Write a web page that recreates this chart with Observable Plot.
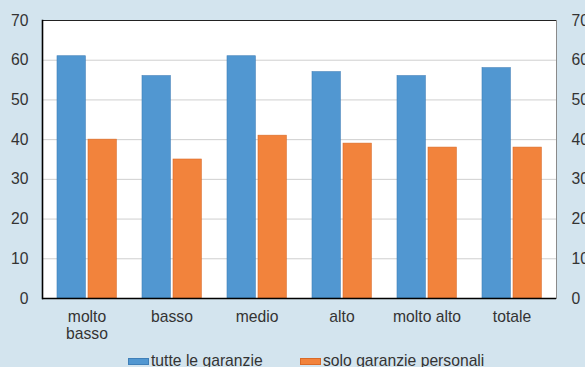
<!DOCTYPE html>
<html>
<head>
<meta charset="utf-8">
<script src="https://cdn.jsdelivr.net/npm/d3@7"></script>
<script src="https://cdn.jsdelivr.net/npm/@observablehq/plot@0.6"></script>
<style>
  html, body { margin: 0; padding: 0; background: #d3e4ee; }
  #wrap { position: relative; width: 585px; height: 367px; overflow: hidden; background: #d3e4ee; font-family: "Liberation Sans", Arial, sans-serif; }
  #legend { position: relative; height: 22px; font-size: 15.7px; line-height: 18px; color: #333; }
  .item { position: absolute; top: 7px; display: flex; align-items: flex-end; white-space: nowrap; }
  .sw { display: inline-block; width: 19px; height: 5px; margin-right: 2px; margin-bottom: 5px; }
</style>
</head>
<body>
<div id="wrap"><div id="chart"></div><div id="legend"></div></div>
<script>
const categories = ["molto\nbasso", "basso", "medio", "alto", "molto alto", "totale"];
const series = ["tutte le garanzie", "solo garanzie personali"];
const tutte = [61, 56, 61, 57, 56, 58];
const solo = [40, 35, 41, 39, 38, 38];
const yTicks = [0, 10, 20, 30, 40, 50, 60, 70];
const colors = ["#5197d1", "#f2833c"];
const strokes = ["#3f7fb8", "#d96a28"];

const dataA = categories.map((c, i) => ({cat: c, value: tutte[i]}));
const dataB = categories.map((c, i) => ({cat: c, value: solo[i]}));

const W = 585, H = 345, mL = 42, mR = 29;
const band = (W - mL - mR) / categories.length;
const FS = 15.7;

const chart = Plot.plot({
  width: W,
  height: H,
  marginTop: 20,
  marginBottom: 47,
  marginLeft: mL,
  marginRight: mR,
  style: {background: "transparent", fontFamily: "'Liberation Sans', Arial, sans-serif", fontSize: FS + "px", color: "#333"},
  x: {domain: categories, padding: 0},
  y: {domain: [0, 70]},
  marks: [
    Plot.frame({fill: "white", stroke: "#8a8a8a"}),
    Plot.gridY(yTicks, {stroke: "#cfcfcf", strokeOpacity: 1}),
    Plot.barY(dataA, {x: "cat", y: "value", fill: colors[0], stroke: strokes[0], strokeWidth: 0.6, insetLeft: 13, insetRight: band - 42}),
    Plot.barY(dataB, {x: "cat", y: "value", fill: colors[1], stroke: strokes[1], strokeWidth: 0.6, insetLeft: 44, insetRight: band - 73}),
    Plot.ruleY([70], {stroke: "#222", strokeWidth: 1}),
    Plot.ruleY([0], {stroke: "#000", strokeWidth: 1.6}),
    Plot.frame({anchor: "left", stroke: "#000", strokeWidth: 1.6}),
    Plot.axisY(yTicks, {anchor: "left", tickSize: 0, tickPadding: 14, fontSize: FS, fill: "#333", label: null}),
    Plot.axisY(yTicks, {anchor: "right", tickSize: 0, tickPadding: 15, fontSize: FS, fill: "#333", label: null}),
    Plot.axisX({anchor: "bottom", tickSize: 0, tickPadding: 11, fontSize: FS, fill: "#333", label: null, lineHeight: 1.115})
  ]
});
document.getElementById("chart").appendChild(chart);

const legend = document.getElementById("legend");
const lx = [128, 300];
series.forEach((s, i) => {
  const it = document.createElement("div");
  it.className = "item";
  it.style.left = lx[i] + "px";
  it.innerHTML = `<span class="sw" style="background:${colors[i]};border:1px solid ${strokes[i]}"></span><span>${s}</span>`;
  legend.appendChild(it);
});
</script>
</body>
</html>
